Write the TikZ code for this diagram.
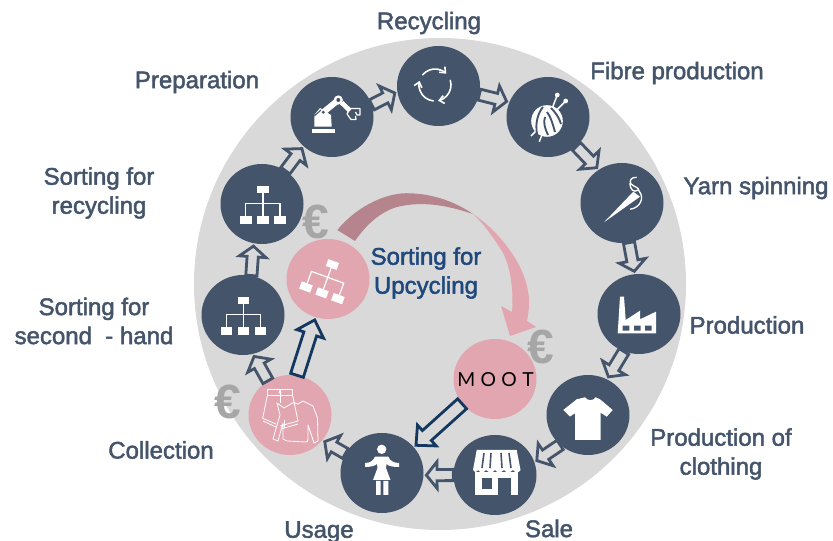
\documentclass[tikz,border=0pt]{standalone}
\usepackage{fontspec}
\setmainfont{Liberation Sans}
\newfontfamily\labfont[FakeBold=2]{Liberation Sans}
\newfontfamily\mootfont{Lato}
\usetikzlibrary{calc,arrows.meta,shapes.geometric}
\definecolor{slateC}{HTML}{44546A}
\definecolor{pinkC}{HTML}{E2A6B1}
\definecolor{duskC}{HTML}{B5848D}
\definecolor{greyC}{HTML}{D9D9D9}
\definecolor{navyC}{HTML}{14375F}
\definecolor{blueT}{HTML}{1F497D}
\definecolor{euroC}{HTML}{A6A6A6}
\tikzset{
  stage/.style={ellipse,minimum width=62.25pt,minimum height=60pt,inner sep=0pt,fill=slateC},
  pinkstage/.style={ellipse,minimum width=62.25pt,minimum height=60pt,inner sep=0pt,fill=pinkC},
  lab/.style={font=\labfont\fontsize{18}{21.75}\selectfont,text=slateC,align=center,inner sep=0pt,yshift=-1.5pt},
  bluelab/.style={lab,text=blueT},
  euro/.style={font=\bfseries\fontsize{36}{36}\selectfont,text=euroC,inner sep=0pt},
  iconline/.style={draw=white,line width=0.9pt,fill=none},
  thin icon/.style={draw=white,line width=0.6pt,fill=none,line join=round},
  greyarrow/.style={draw=slateC,line width=2.1pt,fill=none,miter limit=10},
  navyarrow/.style={draw=navyC,line width=2.1pt,fill=none,miter limit=10}
}
% tail anchor, tip anchor, half shaft, half head, head length (pt), style
\newcommand{\blockarrow}[6]{%
  \path (#1) -- (#2) coordinate[pos=0] (T) coordinate[pos=1] (Hz);
  \coordinate (H) at ($(Hz)!2pt!(T)$);
  \coordinate (N) at ($(H)!#5!(T)$);
  \draw[#6] ($(T)!#3!90:(H)$) -- ($(N)!#3!90:(H)$)
     -- ($(N)!#4!90:(H)$) -- (H) -- ($(N)!#4!-90:(H)$) -- ($(N)!#3!-90:(H)$)
     -- ($(T)!#3!-90:(H)$) -- cycle;
}
\newcommand{\greyblock}[2]{\blockarrow{#1}{#2}{4.2pt}{10pt}{8pt}{greyarrow}}
\newcommand{\navyblock}[2]{\blockarrow{#1}{#2}{5pt}{10.5pt}{11pt}{navyarrow}}
\newcommand{\orgchart}{%
  \fill[white] (-5.7,-18) rectangle (5.7,-10.7);
  \fill[white] (-23,12) rectangle (-11.3,19.7);
  \fill[white] (-5.7,12) rectangle (5.7,19.7);
  \fill[white] (11,12) rectangle (22.7,19.7);
  \draw[iconline] (0,-10.7) -- (0,12);
  \draw[iconline] (-17.3,12) -- (-17.3,-0.7) -- (17,-0.7) -- (17,12);
}
\begin{document}
\begin{tikzpicture}[x=0.75pt,y=-0.75pt]
\useasboundingbox (0,0) rectangle (833,541);
\fill[greyC] (440,284) circle[radius=246];

% stages
\node[stage] (recycling) at (438.5,86) {};
\node[stage] (prep) at (332,117) {};
\node[stage] (fibre) at (548,117) {};
\node[stage] (yarn) at (622,203) {};
\node[stage] (sortrec) at (262,204) {};
\node[stage] (sorthand) at (243,315) {};
\node[pinkstage] (sortup) at (328,279) {};
\node[pinkstage] (collect) at (290,415) {};
\node[stage] (usage) at (382,473) {};
\node[stage] (product) at (639,314) {};
\node[stage] (cloth) at (588,415) {};
\node[stage] (sale) at (495,475) {};
\node[pinkstage] (moot) at (495,379) {};
\node[font=\mootfont\fontsize{14.5}{14.5}\selectfont,text=black,inner sep=0pt] (moottext) at (495.5,380) {M\hspace{4pt}O\hspace{4pt}O\hspace{4pt}T};

% block arrows
\greyblock{prep.17}{recycling.188}
\greyblock{recycling.-12}{fibre.159}
\greyblock{fibre.-46}{yarn.125}
\greyblock{yarn.-80}{product.96}
\greyblock{product.-112}{cloth.62}
\greyblock{cloth.-133}{sale.18}
\greyblock{sale.180}{usage.-3}
\greyblock{usage.152}{collect.-38}
\greyblock{collect.123}{sorthand.-76}
\greyblock{sorthand.78}{sortrec.-102}
\greyblock{sortrec.55}{prep.-134}
\navyblock{collect.80}{sortup.-108}
\navyblock{moot.-143}{usage.39}

% curved arrow
\fill[duskC]
  (337.3,230) .. controls (358,205) and (388,192) .. (410,193.3) .. controls (435,194) and (457,203) .. (473,214)
  .. controls (452,207) and (425,200) .. (397,207) .. controls (380,212) and (366,225) .. (355,241) -- cycle;
\fill[pinkC] (473,214) .. controls (495,228) and (529,265) .. (529,302)
  .. controls (529,310) and (528,316) .. (527,321) -- (536,327) -- (510,336) -- (501,306) -- (512,312)
  .. controls (514,290) and (510,262) .. (500,248) .. controls (492,236) and (484,224) .. (473,214) -- cycle;

% euros
\node[euro] (e1) at (316,222) {€};
\node[euro] (e2) at (541,347) {€};
\node[euro] (e3) at (228,402) {€};

% labels
\node[lab] (l1) at (429,21) {Recycling};
\node[lab] (l2) at (197,80) {Preparation};
\node[lab] (l3) at (677,71) {Fibre production};
\node[lab] (l4) at (756,186) {Yarn spinning};
\node[lab] (l5) at (747,323) {Production};
\node[lab] (l6) at (721,452) {Production of\\clothing};
\node[lab] (l7) at (549,526.5) {Sale};
\node[lab] (l8) at (319,530) {Usage};
\node[lab] (l9) at (161,448) {Collection};
\node[lab] (l10) at (94,319) {Sorting for\\second\ \ - hand};
\node[lab] (l11) at (99,191) {Sorting for\\recycling};
\node[bluelab] (l12) at (426,271) {Sorting for\\Upcycling};

% org charts
\begin{scope}[shift={(263,204)}] \orgchart \end{scope}
\begin{scope}[shift={(243.5,315)}] \orgchart \end{scope}
\begin{scope}[shift={(327.5,278)},rotate=-20] \orgchart \end{scope}

% robot
\fill[white] (312.3,129.3) rectangle (335,133.3);
\fill[white] (314.3,126.7) -- (314.3,115) -- (320,108) -- (331,115) -- (331.7,126.7) -- cycle;
\draw[white,line width=4.5pt] (323.3,112.3) -- (338.3,100);
\draw[slateC,line width=0.8pt] (314.3,116) -- (321,110);
\fill[slateC] (323.3,112.3) circle[radius=1.6];
\draw[white,line width=3.5pt] (341.7,102.7) -- (350,110.7);
\fill[white] (338.3,100) circle[radius=4.6];
\fill[slateC] (338.3,100) circle[radius=2];
\draw[thin icon,line width=0.9pt] (347,114) -- (350,108.5) -- (360,108.5) -- (360,115) -- (357,115) -- (355.5,112);
\draw[thin icon,line width=0.9pt] (347,114) -- (351,119.5) -- (356,119.5) -- (355.5,116);

% recycling arrows
\begin{scope}[line width=1.2pt,line cap=round]
\draw[white,-{Straight Barb[length=3.6pt,width=6pt]}] (435,85) ++(-140:16) arc[start angle=-140,end angle=-45,radius=16];
\draw[white,-{Straight Barb[length=3.6pt,width=6pt]}] (435,85) ++(-17:16) arc[start angle=-17,end angle=79,radius=16];
\draw[white,-{Straight Barb[length=3.6pt,width=6pt]}] (435,85) ++(96:16) arc[start angle=96,end angle=195,radius=16];
\end{scope}

% yarn ball
\draw[white,line width=1.1pt] (539.3,141.7) -- (557.3,95);
\draw[white,line width=1.1pt] (531,136) -- (565.7,101);
\fill[white] (557.3,95) circle[radius=2.4] (565.7,101) circle[radius=2.4];
\fill[white] (547,121) circle[radius=15.8];
\draw[slateC,line width=1.4pt] (543,107) .. controls (538,113) and (535,123) .. (537,134);
\draw[slateC,line width=1.4pt] (545,117) .. controls (543,122) and (545,129) .. (548,135);
\draw[slateC,line width=1.4pt] (547,112) .. controls (551,117) and (553,125) .. (555,132);
\draw[slateC,line width=1.4pt] (551,108) .. controls (555,112) and (559,117) .. (561,124);

% needle
\fill[white] (604,222.3) -- (633.3,191.7) -- (640,196.7) -- cycle;
\draw[white,line width=1pt] (636.7,177.3) .. controls (631,177) and (629,181) .. (631,184) .. controls (634,187) and (639,187) .. (639,191) .. controls (645,198) and (640,208) .. (630,209.3);
\draw[white,line width=1pt] (630,183) .. controls (630,190) and (634,193) .. (638,190);

% factory
\fill[white] (620,296.7) -- (624,296.7) -- (625.7,320) -- (640,310.7) -- (640,319.3) -- (656,311.7) -- (656,333.3) -- (617.7,333.3) -- cycle;
\fill[slateC] (622.7,325.7) rectangle (629.3,330.7) (634,325.7) rectangle (640.7,330.7) (645,325.7) rectangle (651.7,330.7);

% t-shirt
\fill[white] (563.3,410) -- (576.7,399.3) -- (585,397.3) .. controls (587,401) and (594,401) .. (595.7,397.3) -- (600,399.3) -- (612.7,410) -- (606.7,416.7) -- (600.7,412.7) -- (600.7,440) -- (575,440) -- (575,413.3) -- (570,416.5) -- cycle;

% store
\fill[white] (476.7,450) -- (516.7,450) -- (520.5,470) .. controls (519,473) and (515,473) .. (513,470) .. controls (510,473) and (506,473) .. (504,470) .. controls (501,473) and (497,473) .. (495,470) .. controls (493,473) and (489,473) .. (486,470) .. controls (484,473) and (480,473) .. (478,470) .. controls (476,473) and (474,472) .. (473,470) -- cycle;
\fill[white] (475,472) rectangle (518.3,495);
\fill[slateC] (481.7,478.3) rectangle (491.7,489.3);
\fill[slateC] (498,477.7) rectangle (511,495);
\draw[slateC,line width=1.2pt] (484,453) -- (482,468) (491,453) -- (490,468) (501,453) -- (502,468) (509,453) -- (511,468);

% person
\fill[white] (381.7,449.3) circle[radius=4.7];
\fill[white] (375,456.7) -- (388.3,456.7) .. controls (390,461) and (394,463) .. (399,463)
  -- (399,467) .. controls (393,467) and (388,466) .. (386.5,464) -- (386,468) -- (390.5,480) -- (373,480) -- (377.5,468) -- (377,464)
  .. controls (375,466) and (370,467) .. (365,467) -- (365,463) .. controls (370,463) and (373,461) .. (375,456.7) -- cycle;
\fill[white] (376,481) rectangle (380.7,495) (383.3,481) rectangle (388.3,495);

% clothes outline
\draw[thin icon] (267.3,389.7) -- (292.7,389.7) -- (292.7,395.7) -- (267.3,395.7) -- cycle;
\draw[thin icon] (267.3,395.7) -- (262.7,418.3) -- (276,424);
\draw[thin icon] (292.7,395.7) -- (298,421) -- (280,426);
\draw[thin icon] (263,421) -- (276,427);
\draw[thin icon] (298,424) -- (281,429);
\draw[thin icon] (280,389.7) -- (280,403);
\draw[thin icon] (279,393) -- (280,390) -- (281,393) -- cycle;
\draw[thin icon] (277,403) -- (284,408) -- (293.5,402.5) -- (298,404) -- (303,401) -- (313,406) -- (317.5,418) -- (318,441) -- (314,443) -- (308,425) -- (308,438) .. controls (308,442) and (307,442) .. (305,442) -- (287,441) -- (283,439) -- (283,423) -- (278,441) -- (273,439) -- (280,415) -- cycle;
\draw[thin icon] (284,420) -- (284,428);
\end{tikzpicture}
\end{document}
